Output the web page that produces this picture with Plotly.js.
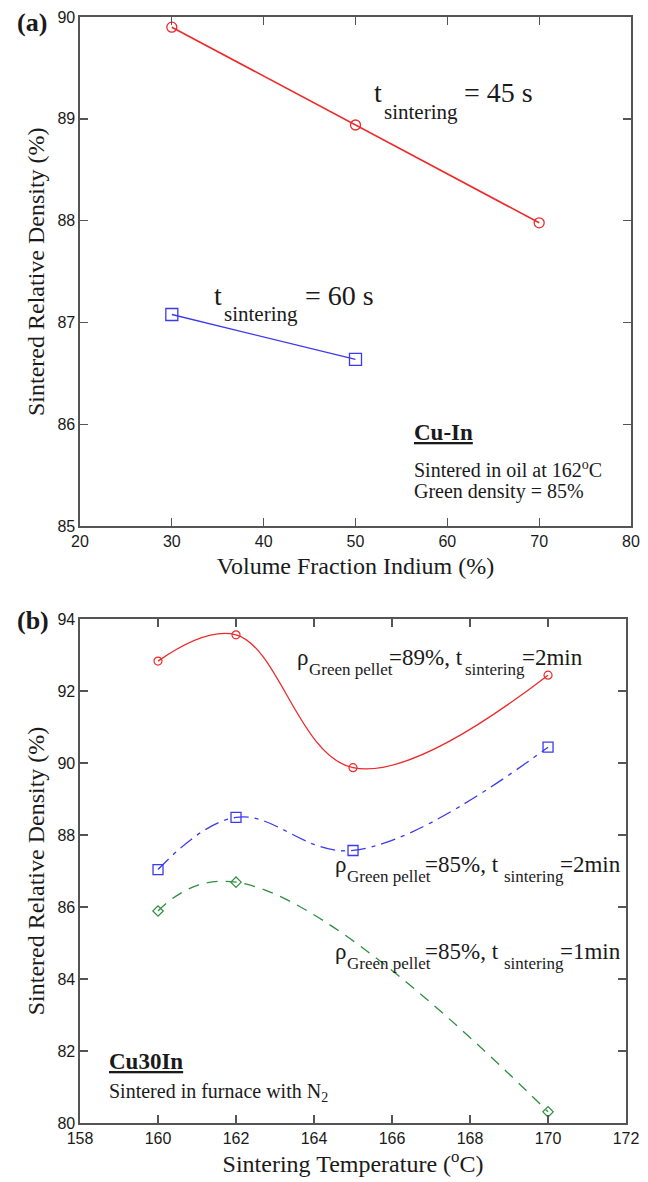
<!DOCTYPE html>
<html>
<head>
<meta charset="utf-8">
<script src="https://cdn.plot.ly/plotly-3.0.1.min.js"></script>
<style>html,body{margin:0;padding:0;background:#fff;}#chart{width:648px;height:1182px;}</style>
</head>
<body>
<div id="chart"></div>
<script>
// Panel (a): Cu-In, sintered in oil at 162 °C
const volFrac45 = [30, 50, 70];
const density45 = [89.90, 88.94, 87.98];
const volFrac60 = [30, 50];
const density60 = [87.08, 86.64];

// Panel (b): Cu30In, sintered in furnace with N2
const temp89_2 = [160, 162, 165, 170];
const dens89_2 = [92.83, 93.56, 89.87, 92.44];
const temp85_2 = [160, 162, 165, 170];
const dens85_2 = [87.04, 88.49, 87.57, 90.44];
const temp85_1 = [160, 162, 170];
const dens85_1 = [85.89, 86.69, 80.31];

const xTicksA = [20, 30, 40, 50, 60, 70, 80];
const yTicksA = [85, 86, 87, 88, 89, 90];
const xTicksB = [158, 160, 162, 164, 166, 168, 170, 172];
const yTicksB = [80, 82, 84, 86, 88, 90, 92, 94];

const SERIF = 'Liberation Serif, Times New Roman, serif';
const SANS = 'Liberation Sans, Arial, sans-serif';
const RED = '#ee2a2a', BLUE = '#3a3aee', GREEN = '#2f8f40';
const INK = '#1a1a1a';

const traces = [
  {x: volFrac45, y: density45, xaxis: 'x', yaxis: 'y', mode: 'lines+markers',
   line: {color: RED, width: 1.6}, marker: {symbol: 'circle-open', size: 10, color: RED, line: {width: 1.3}}},
  {x: volFrac60, y: density60, xaxis: 'x', yaxis: 'y', mode: 'lines+markers',
   line: {color: BLUE, width: 1.3}, marker: {symbol: 'square-open', size: 12, color: BLUE, line: {width: 1.3}}},
  {x: temp89_2, y: dens89_2, xaxis: 'x2', yaxis: 'y2', mode: 'lines+markers',
   line: {color: RED, width: 1.3, shape: 'spline', smoothing: 1.1}, marker: {symbol: 'circle-open', size: 8, color: RED, line: {width: 1.2}}},
  {x: temp85_2, y: dens85_2, xaxis: 'x2', yaxis: 'y2', mode: 'lines+markers',
   line: {color: BLUE, width: 1.3, shape: 'spline', smoothing: 1.1, dash: '15px,6px,4px,6px'}, marker: {symbol: 'square-open', size: 10, color: BLUE, line: {width: 1.3}}},
  {x: temp85_1, y: dens85_1, xaxis: 'x2', yaxis: 'y2', mode: 'lines+markers',
   line: {color: GREEN, width: 1.3, shape: 'spline', smoothing: 1.3, dash: '11px,8px'}, marker: {symbol: 'diamond-open', size: 8, color: GREEN, line: {width: 1.2}}}
];

function ax(extra) {
  return Object.assign({
    showline: true, mirror: 'ticks', linecolor: '#555', linewidth: 1.6,
    ticks: 'inside', ticklen: 8, tickwidth: 1.3, tickcolor: '#555',
    showgrid: false, zeroline: false,
    tickfont: {family: SANS, size: 16, color: INK}
  }, extra);
}

const ann = [];
function A(text, x, y, xref, yref, size, fam) {
  ann.push({text: text, x: x, y: y, xref: xref, yref: yref, showarrow: false,
    xanchor: 'left', yanchor: 'middle', font: {family: fam || SERIF, size: size, color: INK}});
}
// panel labels
A('<b>(a)</b>', -0.118, 0.9953, 'paper', 'paper', 26);
A('<b>(b)</b>', -0.118, 0.4542, 'paper', 'paper', 26);

// panel (a) texts
A('t', 51.77, 89.263, 'x', 'y', 28);
A('sintering', 52.85, 89.067, 'x', 'y', 21);
A('= 45 s', 61.57, 89.263, 'x', 'y', 28);
A('t', 34.34, 87.267, 'x', 'y', 28);
A('sintering', 35.43, 87.087, 'x', 'y', 21);
A('= 60 s', 44.25, 87.267, 'x', 'y', 28);
A('<b><u>Cu-In</u></b>', 56.12, 85.92, 'x', 'y', 23);
A('Sintered in oil at 162<sup>o</sup>C', 56.12, 85.56, 'x', 'y', 20);
A('Green density = 85%', 56.12, 85.34, 'x', 'y', 20);

// panel (b) texts
function rhoLabel(xs, yMain, ySub, dens, time) {
  A('ρ', xs[0], yMain, 'x2', 'y2', 23);
  A('Green pellet', xs[1], ySub, 'x2', 'y2', 17);
  A('=' + dens + ', t', xs[2], yMain, 'x2', 'y2', 23);
  A('sintering', xs[3], ySub, 'x2', 'y2', 17);
  A('=' + time, xs[4], yMain, 'x2', 'y2', 23);
}
rhoLabel([163.51, 163.81, 165.86, 167.82, 169.28], 92.925, 92.6, '89%', '2min');
rhoLabel([164.49, 164.79, 166.79, 168.81, 170.26], 87.175, 86.84, '85%', '2min');
rhoLabel([164.49, 164.79, 166.79, 168.81, 170.26], 84.77, 84.44, '85%', '1min');
A('<b><u>Cu30In</u></b>', 158.685, 81.70, 'x2', 'y2', 23);
A('Sintered in furnace with N<sub>2</sub>', 158.685, 80.85, 'x2', 'y2', 20);

const titleFont = {family: SERIF, size: 24, color: INK};
const layout = {
  width: 648, height: 1182,
  margin: {l: 80, r: 17, t: 17, b: 59},
  paper_bgcolor: '#fff', plot_bgcolor: '#fff',
  showlegend: false,
  font: {family: SERIF, color: INK},
  xaxis: ax({domain: [0, 1], range: [20, 80], tickvals: xTicksA, anchor: 'y',
    title: {text: 'Volume Fraction Indium (%)', font: titleFont, standoff: 8}}),
  yaxis: ax({domain: [0.5394, 1], range: [85, 90], tickvals: yTicksA, anchor: 'x',
    title: {text: 'Sintered Relative Density (%)', font: titleFont, standoff: 6}}),
  xaxis2: ax({domain: [0, 0.991], range: [158, 172], tickvals: xTicksB, anchor: 'y2',
    title: {text: 'Sintering Temperature (<sup>o</sup>C)', font: titleFont, standoff: 8}}),
  yaxis2: ax({domain: [0, 0.4557], range: [80, 94], tickvals: yTicksB, anchor: 'x2',
    title: {text: 'Sintered Relative Density (%)', font: titleFont, standoff: 6}}),
  annotations: ann
};

Plotly.newPlot('chart', traces, layout, {staticPlot: true, displayModeBar: false});
</script>
</body>
</html>
